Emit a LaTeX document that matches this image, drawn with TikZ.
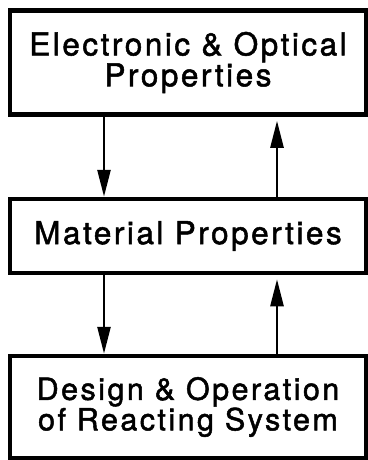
\documentclass[tikz,border=0pt]{standalone}
\usepackage{fontspec}
\newfontfamily\heros[LetterSpace=8,FakeBold=1.6]{TeX Gyre Heros}
\usetikzlibrary{arrows.meta}
\tikzset{
  box/.style={draw, line width=4.5pt, rectangle, minimum width=356pt, inner sep=0pt, align=center, font=\heros},
  conn/.style={line width=2.6pt, -{Triangle[length=27pt,width=13pt]}},
}
\begin{document}
\begin{tikzpicture}[x=1pt,y=1pt]
\useasboundingbox (0,0) rectangle (367,-460);
\node[box, minimum height=104pt] (top) at (188,-62.5) {\fontsize{31.5}{35}\selectfont Electronic \& Optical\\ \fontsize{31.5}{35}\selectfont Properties};
\node[box, minimum height=74pt] (mid) at (188,-236) {\fontsize{31.5}{35}\selectfont Material Properties};
\node[box, minimum height=102pt] (bot) at (188,-407) {\fontsize{30.5}{30}\selectfont Design \& Operation\\ \fontsize{30.5}{30}\selectfont of Reacting System};
\coordinate (xL) at (104,0);
\coordinate (xR) at (277,0);
\draw[conn] (top.south -| xL) -- (mid.north -| xL);
\draw[conn, shorten >=4pt] (mid.north -| xR) -- (top.south -| xR);
\draw[conn] (mid.south -| xL) -- (bot.north -| xL);
\draw[conn, shorten >=4pt] (bot.north -| xR) -- (mid.south -| xR);
\end{tikzpicture}
\end{document}
